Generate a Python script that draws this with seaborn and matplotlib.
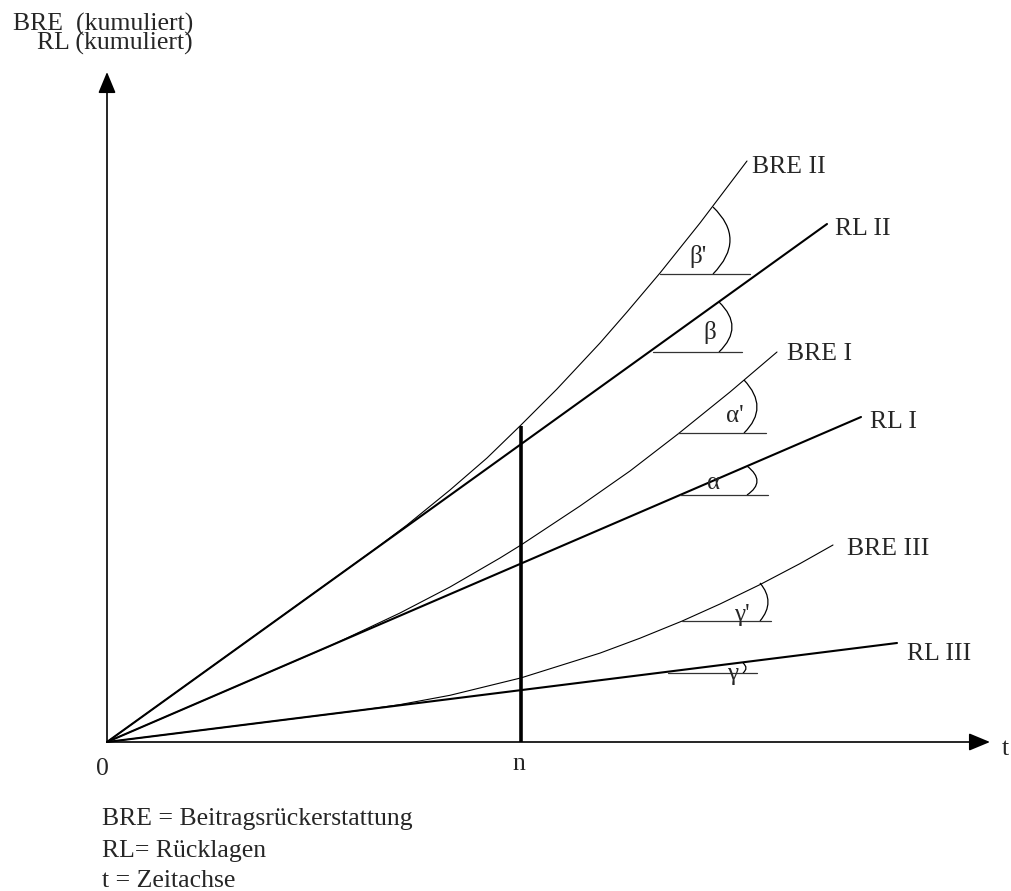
import numpy as np
import pandas as pd
import matplotlib.pyplot as plt
import seaborn as sns
from matplotlib.path import Path
from matplotlib.patches import PathPatch

sns.set_style('white')
plt.rcParams['font.family'] = ['Liberation Serif', 'DejaVu Serif']

# Daten (Einheiten: Bildpunkte ab Ursprung)
rl_names = ['RL I', 'RL II', 'RL III']
rl_t_end = [754, 720, 790]
rl_y_end = [325, 518, 99]

bre2_t = [0, 268, 300, 343, 380, 414, 450, 493, 520, 553, 593, 615, 640]
bre2_y = [0, 193, 217, 252, 284, 317, 353, 399, 430, 469, 519, 548, 581]
bre1_t = [0, 223, 293, 343, 393, 414, 473, 523, 571, 623, 670]
bre1_y = [0, 96, 129, 155, 184, 197, 236, 271, 308, 350, 390]
bre3_t = [0, 253, 293, 343, 414, 493, 533, 575, 613, 653, 693, 726]
bre3_y = [0, 31.6, 37.4, 46.7, 64.1, 88.9, 103.8, 120.9, 138, 157.4, 178.4, 197]

n_pos = 414
n_height = 316

# Winkelmarken: (Start der Waagrechten, Hoehe, Laenge, Bogen oben, Bogen unten, Ausbuchtung, Symbol, Symbolpos)
winkel = [
    (553, 468, 90, (606, 535), (606, 468), (623, 502), "β'", (591, 486)),
    (546, 390, 89, (612, 440), (612, 390), (625, 415), "β", (603, 409)),
    (571, 309, 88, (637, 362), (637, 309), (650, 335), "α'", (628, 326)),
    (573, 247, 88, (640, 276), (640, 247), (650, 261), "α", (607, 259)),
    (575, 121, 89, (653, 159), (653, 121), (661, 140), "γ'", (635, 127)),
    (561, 69, 89, (636, 79), (636, 69), (639, 74), "γ", (626, 68)),
]

fig = plt.figure(figsize=(10.11, 8.91), dpi=100)
ax = fig.add_axes([0, 0, 1, 1])
ax.set_xlim(-107, 904)
ax.set_ylim(-149, 742)
ax.axis('off')

# Rücklagen (Geraden)
for name, te, ye in zip(rl_names, rl_t_end, rl_y_end):
    sns.lineplot(x=[0, te], y=[0, ye], color='black', lw=1.5, ax=ax)

# Beitragsrückerstattung (Kurven)
for tt, yy in [(bre1_t, bre1_y), (bre2_t, bre2_y), (bre3_t, bre3_y)]:
    sns.lineplot(x=tt, y=yy, color='black', lw=0.8, ax=ax, sort=False, estimator=None)

# Zeitpunkt n
ax.plot([n_pos, n_pos], [0, n_height], color='black', lw=2.6, solid_capstyle='butt')

# Achsen mit Pfeilen
pfeil = dict(arrowstyle='-|>,head_length=0.65,head_width=0.27', color='black', lw=1.2,
             mutation_scale=20, shrinkA=0, shrinkB=0)
ax.annotate('', xy=(0, 670), xytext=(0, 0), arrowprops=pfeil)
ax.annotate('', xy=(883, 0), xytext=(0, 0), arrowprops=pfeil)

# Winkel
for x0, y0, lng, top, bot, bul, sym, spos in winkel:
    ax.plot([x0, x0 + lng], [y0, y0], color='#333333', lw=0.9)
    ctrl = (2 * bul[0] - (top[0] + bot[0]) / 2, 2 * bul[1] - (top[1] + bot[1]) / 2)
    p = Path([top, ctrl, bot], [Path.MOVETO, Path.CURVE3, Path.CURVE3])
    ax.add_patch(PathPatch(p, fill=False, color='black', lw=0.9))
    ax.text(spos[0], spos[1], sym, fontsize=18, ha='center', va='center')

fs = 18.5
ax.text(86, 692, 'BRE  (kumuliert)\nRL (kumuliert)', fontsize=fs, ha='right',
        multialignment='right', va='baseline', linespacing=0.8)
ax.text(-5, -33, '0', fontsize=fs, ha='center', va='baseline')
ax.text(412, -28, 'n', fontsize=fs, ha='center', va='baseline')
ax.text(895, -13, 't', fontsize=fs, va='baseline')

ax.text(645, 569, 'BRE II', fontsize=fs, va='baseline')
ax.text(728, 507, 'RL II', fontsize=fs, va='baseline')
ax.text(680, 382, 'BRE I', fontsize=fs, va='baseline')
ax.text(763, 314, 'RL I', fontsize=fs, va='baseline')
ax.text(740, 187, 'BRE III', fontsize=fs, va='baseline')
ax.text(800, 82, 'RL III', fontsize=fs, va='baseline')

ax.text(-5, -83, 'BRE = Beitragsrückerstattung', fontsize=fs, va='baseline')
ax.text(-5, -115, 'RL= Rücklagen', fontsize=fs, va='baseline')
ax.text(-5, -145, 't = Zeitachse', fontsize=fs, va='baseline')

fig.savefig('out.png', dpi=100, facecolor='white')
